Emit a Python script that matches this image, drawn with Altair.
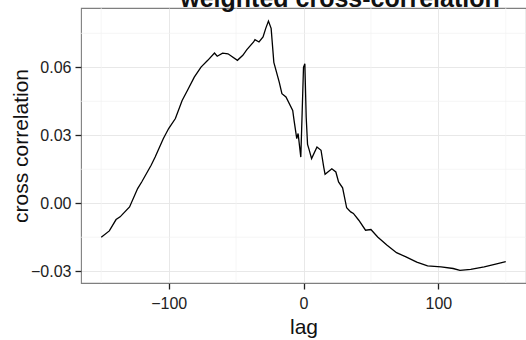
import altair as alt
import pandas as pd

lags = [-150, -144, -139, -136, -129, -123, -120, -113, -110, -104, -100, -95, -90, -86,
        -81, -76, -71, -66, -64, -60, -56, -49, -45, -42, -37, -36, -33, -30, -28, -26,
        -24, -22, -18, -16, -13, -8, -7, -5, -4, -2, -1, 0, 1, 2, 3, 4, 6, 10, 13, 15,
        16, 21, 24, 26, 29, 32, 35, 37, 41, 46, 50, 55, 62, 69, 76, 84, 92, 102, 111,
        116, 124, 134, 144, 150]
values = [-0.0150, -0.0122, -0.0072, -0.0060, -0.0016, 0.0065, 0.0094, 0.0168, 0.0204,
          0.0285, 0.0330, 0.0374, 0.0454, 0.0499, 0.0557, 0.0601, 0.0631, 0.0663, 0.0649,
          0.0663, 0.0660, 0.0631, 0.0653, 0.0678, 0.0712, 0.0722, 0.0712, 0.0734, 0.0772,
          0.0804, 0.0772, 0.0622, 0.0535, 0.0484, 0.0469, 0.0410, 0.0366, 0.0285, 0.0308,
          0.0204, 0.0400, 0.0600, 0.0616, 0.0380, 0.0260, 0.0240, 0.0197, 0.0248, 0.0234,
          0.0160, 0.0128, 0.0152, 0.0138, 0.0094, 0.0068, -0.0020, -0.0038, -0.0045,
          -0.0075, -0.0119, -0.0116, -0.0149, -0.0185, -0.0218, -0.0237, -0.0260, -0.0276,
          -0.0281, -0.0288, -0.0296, -0.0292, -0.0281, -0.0266, -0.0258]

x_ticks = [-100, 0, 100]
y_ticks = [-0.03, 0.0, 0.03, 0.06]
x_minor = [-150, -50, 50, 150]
y_minor = [-0.015, 0.015, 0.045, 0.075]
title_text = "weighted cross-correlation"

df = pd.DataFrame({"lag": lags, "cc": values})
xscale = alt.Scale(domain=[-165, 165], nice=False, zero=False)
yscale = alt.Scale(domain=[-0.0352, 0.0862], nice=False, zero=False)

common = dict(grid=True, gridColor="#E5E5E5", gridWidth=0.9, domain=False,
              tickColor="#222222", tickSize=6, tickWidth=1.3, labelFontSize=16,
              labelColor="#222222", labelFont="Liberation Sans",
              titleFont="Liberation Sans", titleFontSize=21,
              titleFontWeight="normal", titleColor="#111111")
xaxis = alt.Axis(values=x_ticks, format="d", labelPadding=6, titlePadding=5, **common)
yaxis = alt.Axis(values=y_ticks, format=".2f", labelPadding=4, titlePadding=-1, **common)

X = alt.X("lag:Q", scale=xscale, title="lag", axis=xaxis)
Y = alt.Y("cc:Q", scale=yscale, title="cross correlation", axis=yaxis)

minor_x = alt.Chart(pd.DataFrame({"lag": x_minor})).mark_rule(
    color="#F2F2F2", strokeWidth=0.7
).encode(x=X)

minor_y = alt.Chart(pd.DataFrame({"cc": y_minor})).mark_rule(
    color="#F2F2F2", strokeWidth=0.7
).encode(y=Y)

line = alt.Chart(df).mark_line(color="black", strokeWidth=1.3).encode(x=X, y=Y)

title = alt.Chart(pd.DataFrame({"t": [title_text]})).mark_text(
    font="Liberation Sans", fontSize=25, fontWeight="bold", color="#111111",
    align="center", baseline="alphabetic"
).encode(text="t:N", x=alt.value(259), y=alt.value(-1))

chart = alt.layer(minor_x, minor_y, line, title).properties(
    width=445,
    height=275,
    autosize=alt.AutoSizeParams(type="none"),
    padding={"left": 81, "top": 8, "right": 0, "bottom": 57},
    background="white",
).configure_view(stroke="#7F7F7F", strokeWidth=1.1)

chart.save("out.html", embed_options={"renderer": "svg", "actions": False})
